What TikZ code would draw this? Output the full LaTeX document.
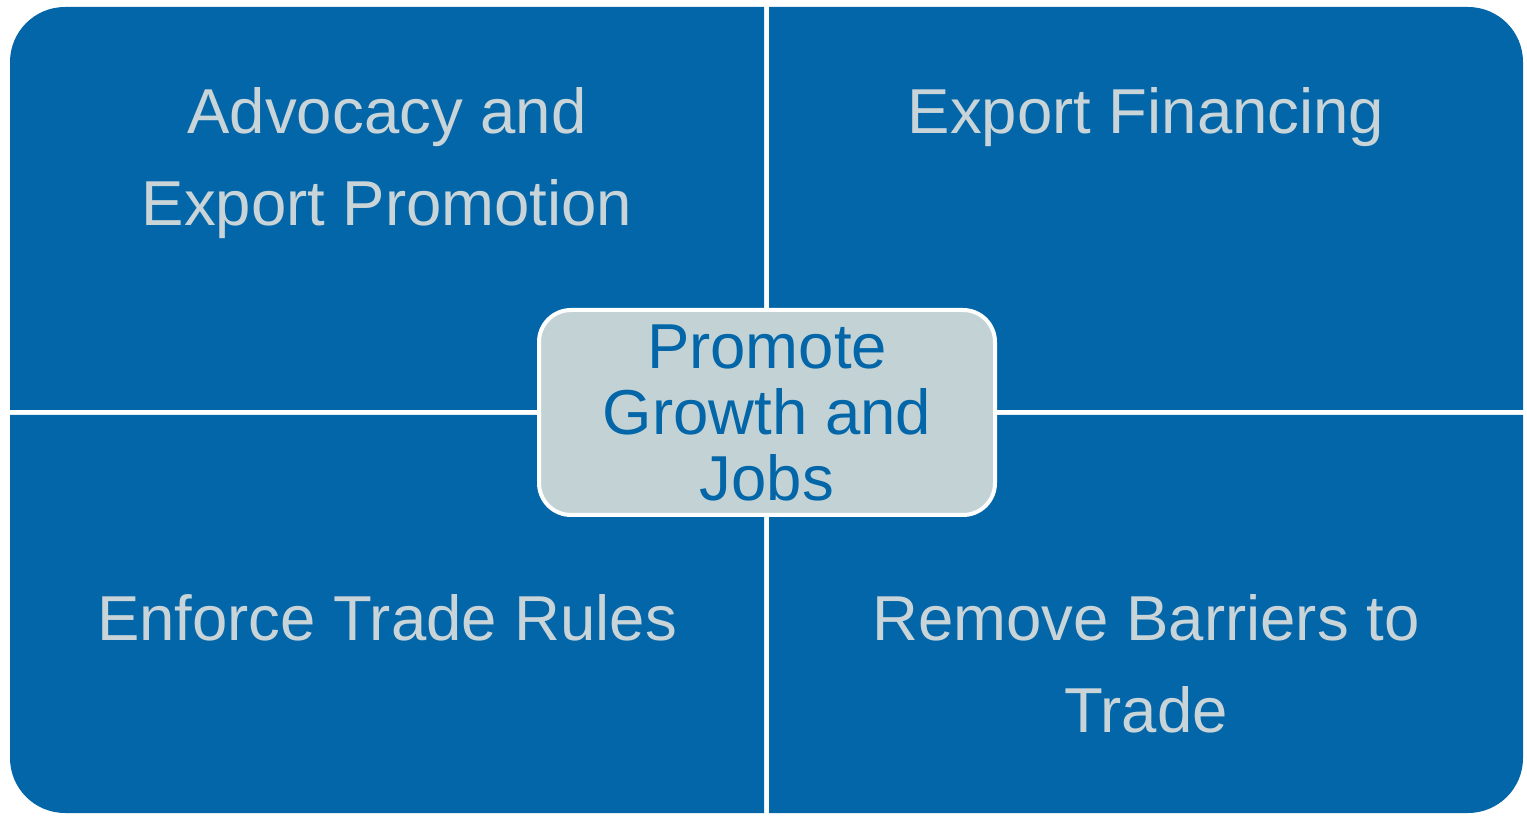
\documentclass[tikz,border=0pt]{standalone}
\usepackage{fontspec}
\setmainfont{Liberation Sans}
\definecolor{tradeblue}{HTML}{0266A8}
\definecolor{tradegray}{HTML}{C8D4D8}
\definecolor{hubfill}{HTML}{C3D3D5}
\tikzset{
quad/.style={fill=tradeblue}, % the four blue quadrants
quadtext/.style={text=tradegray, align=center, inner sep=0pt, anchor=north,
  font=\fontsize{63.5}{92}\selectfont}, % labels of the quadrants
hub/.style={draw=white, line width=4pt, fill=hubfill, rounded corners=32pt,
  minimum width=456pt, minimum height=205pt, text=tradeblue, align=center,
  inner sep=0pt, font=\fontsize{63.5}{66}\selectfont}, % the box in the middle
}

\begin{document}
\begin{tikzpicture}[x=1pt,y=1pt]
  \useasboundingbox (0,0) rectangle (1527,815);

  % quadrants, only the outer corner is rounded
  \fill[quad] (764,405) -- (10,405) -- (10,753) arc[start angle=180, end angle=90, radius=55pt] -- (764,808) -- cycle;
  \fill[quad] (769,405) -- (769,808) -- (1468,808) arc[start angle=90, end angle=0, radius=55pt] -- (1523,405) -- cycle;
  \fill[quad] (764,400) -- (764,2) -- (65,2) arc[start angle=270, end angle=180, radius=55pt] -- (10,400) -- cycle;
  \fill[quad] (769,400) -- (769,2) -- (1468,2) arc[start angle=270, end angle=360, radius=55pt] -- (1523,400) -- cycle;

  \node[quadtext] (advocacy) at (387,728) {Advocacy and\\Export Promotion};
  \node[quadtext] (financing) at (1146,727.5) {Export Financing};
  \node[quadtext] (enforce) at (387,221) {Enforce Trade Rules};
  \node[quadtext] (barriers) at (1146,221) {Remove Barriers to\\Trade};

  \node[hub] (growth) at (767,402.5) {Promote\\Growth and\\Jobs};
\end{tikzpicture}
\end{document}
